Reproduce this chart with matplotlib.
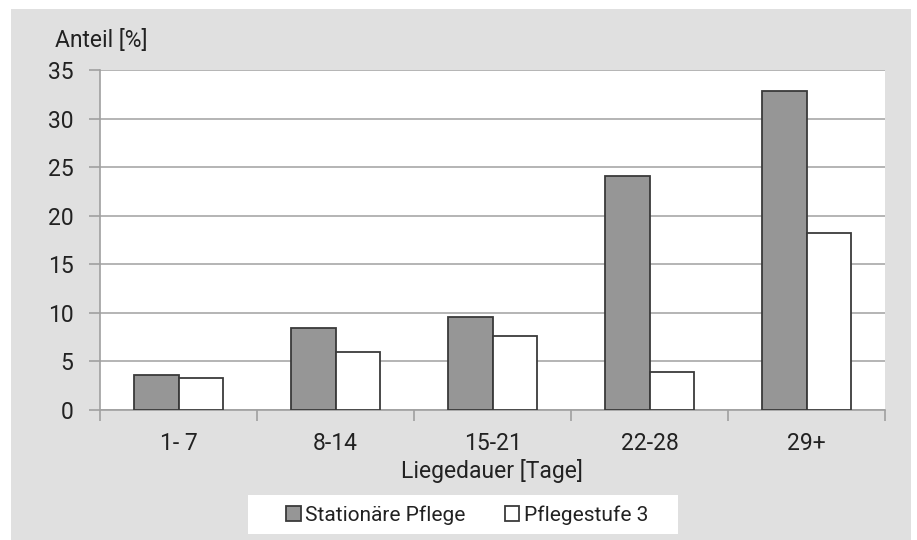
import numpy as np
import matplotlib.pyplot as plt
from matplotlib.patches import Rectangle

plt.rcParams['font.family'] = ['Roboto', 'DejaVu Sans']

kategorien = ['1- 7', '8-14', '15-21', '22-28', '29+']
stationaer = [3.6, 8.4, 9.6, 24.1, 32.8]
pflegestufe3 = [3.3, 6.0, 7.6, 3.9, 18.2]

W, H = 917, 540
fig = plt.figure(figsize=(W / 100, H / 100), dpi=100)
fig.patch.set_facecolor('white')
# grauer Hintergrund und weißes Legendenfeld
fig.patches.append(Rectangle((11 / W, 0), 900 / W, 531 / H,
                             transform=fig.transFigure, facecolor='#e0e0e0',
                             edgecolor='none', zorder=-10))
fig.patches.append(Rectangle((248 / W, 1 - 534 / H), 430 / W, 39 / H,
                             transform=fig.transFigure, facecolor='white',
                             edgecolor='none', zorder=-5))

ax = fig.add_axes([100 / W, 130 / H, 785 / W, 340 / H])
ax.set_facecolor('white')

x = np.arange(len(kategorien))
b = 1 / 3.5
ax.bar(x - b / 2, stationaer, b, color='#969696', edgecolor='#3a3a3a', linewidth=1.3,
       label='Stationäre Pflege', zorder=3)
ax.bar(x + b / 2, pflegestufe3, b, color='white', edgecolor='#3a3a3a', linewidth=1.3,
       label='Pflegestufe 3', zorder=3)

ax.set_xlim(-0.5, len(kategorien) - 0.5)
ax.set_ylim(0, 35)
ax.set_yticks(range(0, 36, 5))
ax.yaxis.grid(True, color='#a8a8a8', linewidth=1.2)
ax.set_axisbelow(True)

ax.set_xticks(np.arange(len(kategorien) + 1) - 0.5)
ax.set_xticklabels([])
ax.set_xticks(x, minor=True)
ax.set_xticklabels(kategorien, minor=True, fontsize=16.5, color='#222222')
ax.tick_params(axis='x', which='minor', length=0, pad=16)
ax.tick_params(axis='x', which='major', length=8, color='#a0a0a0', width=1.2)
ax.tick_params(axis='y', length=8, color='#a0a0a0', width=1.2, labelsize=16.5,
               labelcolor='#222222', pad=11)

for s in ['top', 'right']:
    ax.spines[s].set_visible(False)
ax.spines['left'].set_color('#a0a0a0')
ax.spines['bottom'].set_color('#a0a0a0')
ax.spines['left'].set_linewidth(1.2)
ax.spines['bottom'].set_linewidth(1.2)

fig.text(492 / W, 1 - 478 / H, 'Liegedauer [Tage]', fontsize=16.5, color='#222222',
         ha='center', va='baseline')
fig.text(55 / W, 1 - 47 / H, 'Anteil [%]', fontsize=16.5, color='#222222',
         ha='left', va='baseline')

leg = fig.legend(loc='center', bbox_to_anchor=(467 / W, 1 - 515 / H), ncol=2,
                 fontsize=15, frameon=False, handlelength=0.7,
                 handleheight=0.7, handletextpad=0.2, columnspacing=1.9,
                 borderpad=0.0)
for t in leg.get_texts():
    t.set_color('#222222')

fig.savefig('out.png', dpi=100)
